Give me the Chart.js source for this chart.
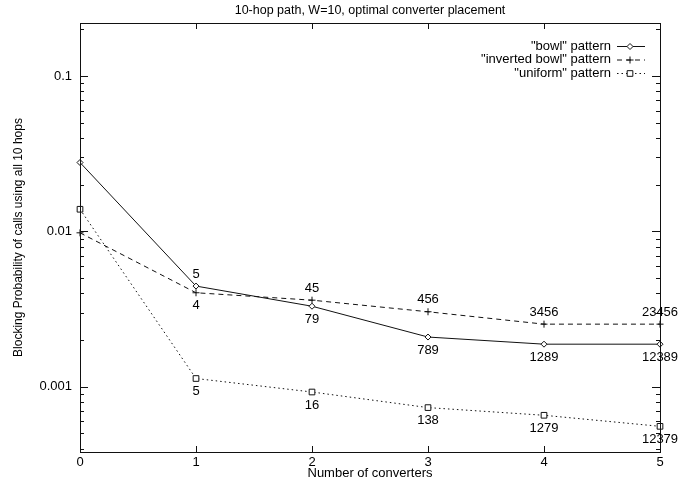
<!DOCTYPE html>
<html>
<head>
<meta charset="utf-8">
<script src="https://cdn.jsdelivr.net/npm/chart.js@4.4.0/dist/chart.umd.min.js"></script>
<style>
  html, body { margin: 0; background: #fff; }
</style>
</head>
<body>
<canvas id="blocking" width="678" height="481"></canvas>
<script>
// data
const converters = [0, 1, 2, 3, 4, 5];
const bowl = [0.0278, 0.00445, 0.0033, 0.00209, 0.00188, 0.00188];
const invertedBowl = [0.0098, 0.00403, 0.00361, 0.00304, 0.00253, 0.00253];
const uniform = [0.0139, 0.00113, 0.000925, 0.000734, 0.000655, 0.000556];

// placement labels next to each point
const bowlLabels = [null, '5', '79', '789', '1289', '12389'];
const invertedLabels = [null, '4', '45', '456', '3456', '23456'];
const uniformLabels = [null, '5', '16', '138', '1279', '12379'];
const bowlSide = [null, 'above', 'below', 'below', 'below', 'below'];
const invertedSide = [null, 'below', 'above', 'above', 'above', 'above'];
const uniformSide = [null, 'below', 'below', 'below', 'below', 'below'];

const yTicks = [0.001, 0.01, 0.1];
const seriesNames = ['"bowl" pattern', '"inverted bowl" pattern', '"uniform" pattern'];

const FONT = "'Liberation Sans', Arial, sans-serif";
const INK = '#111';

const toPoints = vals => vals.map((v, i) => ({ x: converters[i], y: v }));

// gnuplot-like frame, inward ticks, point labels, key and title
const gnuplotLook = {
  id: 'gnuplotLook',
  afterDraw(chart) {
    const { ctx, chartArea: a, scales: { x, y } } = chart;
    ctx.save();
    ctx.strokeStyle = INK;
    ctx.lineWidth = 1;
    ctx.strokeRect(a.left + 0.5, a.top + 0.5, a.right - a.left, a.bottom - a.top);

    ctx.beginPath();
    converters.forEach(c => {
      const px = Math.round(x.getPixelForValue(c)) + 0.5;
      ctx.moveTo(px, a.bottom); ctx.lineTo(px, a.bottom - 6);
      ctx.moveTo(px, a.top); ctx.lineTo(px, a.top + 6);
    });
    for (let d = -4; d <= 0; d++) {
      for (let m = 1; m <= 9; m++) {
        const v = m * Math.pow(10, d);
        if (v < y.min || v > y.max) continue;
        const py = Math.round(y.getPixelForValue(v)) + 0.5;
        const len = m === 1 ? 8 : 4;
        ctx.moveTo(a.left, py); ctx.lineTo(a.left + len, py);
        ctx.moveTo(a.right, py); ctx.lineTo(a.right - len, py);
      }
    }
    ctx.stroke();

    // point labels
    ctx.fillStyle = '#000';
    ctx.font = '13px ' + FONT;
    ctx.textAlign = 'center';
    ctx.textBaseline = 'middle';
    chart.data.datasets.forEach(ds => {
      ds.pointText.forEach((t, i) => {
        if (!t) return;
        const px = x.getPixelForValue(converters[i]);
        const py = y.getPixelForValue(ds.data[i].y);
        ctx.fillText(t, px, py + (ds.pointSide[i] === 'above' ? -12 : 13));
      });
    });

    // title over the plot area
    ctx.font = '12.5px ' + FONT;
    ctx.fillText('10-hop path, W=10, optimal converter placement', (a.left + a.right) / 2, 11);

    // key, top right
    ctx.font = '13px ' + FONT;
    ctx.textAlign = 'right';
    chart.data.datasets.forEach((ds, i) => {
      const ky = 46 + i * 13.5;
      ctx.fillStyle = '#000';
      ctx.fillText(ds.label, 611, ky);
      ctx.beginPath();
      ctx.setLineDash(ds.borderDash || []);
      ctx.moveTo(617, ky + 0.5); ctx.lineTo(645, ky + 0.5);
      ctx.stroke();
      ctx.setLineDash([]);
      ctx.fillStyle = '#fff';
      Chart.helpers.drawPoint(ctx, {
        pointStyle: ds.pointStyle, radius: ds.pointRadius, borderWidth: 1
      }, 630, ky + 0.5);
    });
    ctx.restore();
  }
};

new Chart(document.getElementById('blocking'), {
  type: 'line',
  data: {
    datasets: [
      {
        label: seriesNames[0],
        data: toPoints(bowl),
        pointText: bowlLabels, pointSide: bowlSide,
        borderColor: INK, borderWidth: 1, clip: false,
        pointStyle: 'rectRot', pointRadius: 3,
        pointBackgroundColor: '#fff', pointBorderColor: INK, pointBorderWidth: 1
      },
      {
        label: seriesNames[1],
        data: toPoints(invertedBowl),
        pointText: invertedLabels, pointSide: invertedSide,
        borderColor: INK, borderWidth: 1, borderDash: [5, 4], clip: false,
        pointStyle: 'cross', pointRadius: 3.5,
        pointBackgroundColor: '#fff', pointBorderColor: INK, pointBorderWidth: 1
      },
      {
        label: seriesNames[2],
        data: toPoints(uniform),
        pointText: uniformLabels, pointSide: uniformSide,
        borderColor: INK, borderWidth: 1, borderDash: [1.5, 3], clip: false,
        pointStyle: 'rect', pointRadius: 4,
        pointBackgroundColor: '#fff', pointBorderColor: INK, pointBorderWidth: 1
      }
    ]
  },
  options: {
    responsive: false,
    animation: false,
    layout: { padding: { top: 23, right: 18, left: 0, bottom: 0 } },
    plugins: {
      legend: { display: false },
      tooltip: { enabled: false },
      title: { display: false }
    },
    scales: {
      x: {
        type: 'linear',
        min: 0, max: 5,
        afterFit: s => { s.height = 29; },
        grid: { display: false, drawTicks: false },
        border: { display: false },
        ticks: { stepSize: 1, padding: 3, color: '#000', font: { family: FONT, size: 13 } },
        title: {
          display: true, text: 'Number of converters', color: '#000',
          padding: { top: 0, bottom: 0 }, font: { family: FONT, size: 13 }
        }
      },
      y: {
        type: 'logarithmic',
        min: 0.00038, max: 0.22,
        afterFit: s => { s.width = 80; },
        afterBuildTicks: s => { s.ticks = yTicks.map(v => ({ value: v })); },
        grid: { display: false, drawTicks: false },
        border: { display: false },
        ticks: {
          padding: 8, color: '#000', font: { family: FONT, size: 13 },
          callback: v => String(v)
        },
        title: {
          display: true, text: 'Blocking Probability of calls using all 10 hops', color: '#000',
          padding: { top: 11, bottom: 0 }, font: { family: FONT, size: 12 }
        }
      }
    }
  },
  plugins: [gnuplotLook]
});
</script>
</body>
</html>
